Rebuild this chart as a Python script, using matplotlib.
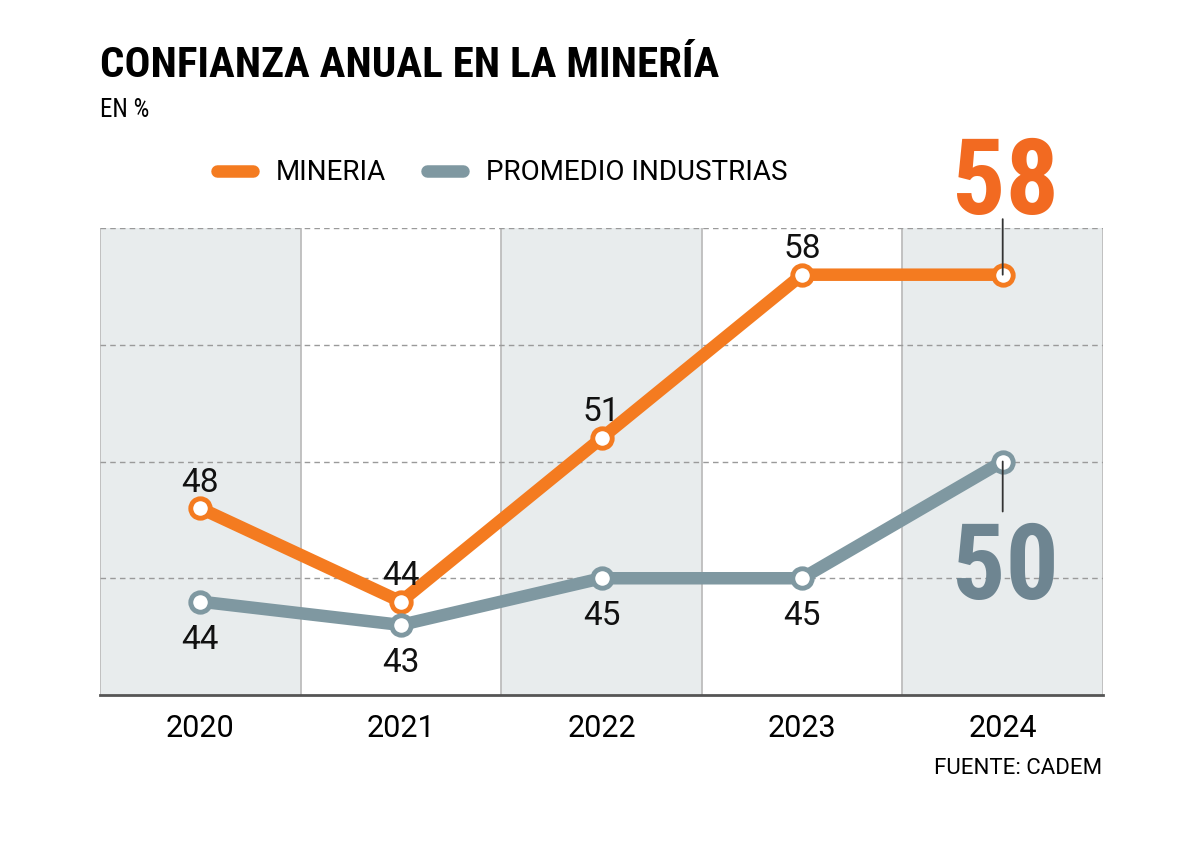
import matplotlib.pyplot as plt
from matplotlib.lines import Line2D
import numpy as np

plt.rcParams['font.family'] = ['Roboto', 'DejaVu Sans']
cond = ['Roboto Condensed', 'Liberation Sans Narrow', 'Roboto', 'DejaVu Sans']

years = ["2020", "2021", "2022", "2023", "2024"]
mineria = [48, 44, 51, 58, 58]
promedio = [44, 43, 45, 45, 50]
yticks = [40, 45, 50, 55, 60]

c_min = "#f47b20"
c_prom = "#7f98a1"
c_big_min = "#f26a21"
c_big_prom = "#6e8591"
shade = "#e8eced"

fig = plt.figure(figsize=(12, 8.58), dpi=100)
ax = fig.add_axes([100/1200, 1-695/858, 1003/1200, 467/858])

x = np.arange(len(years))
ax.set_xlim(-0.5, len(years)-0.5)
ax.set_ylim(40, 60)

# shaded columns
for i in range(len(years)):
    if i % 2 == 0:
        ax.axvspan(i-0.5, i+0.5, color=shade, zorder=0, lw=0)
for i in range(len(years)+1):
    ax.axvline(i-0.5, color="#bdbdbd", lw=1.3, zorder=1)
for yv in yticks[1:]:
    ax.axhline(yv, color="#9a9a9a", lw=1, ls=(0, (4, 3)), zorder=1)

ax.plot(x, mineria, color=c_min, lw=9, zorder=3, solid_capstyle="round",
        marker="o", ms=14, mfc="white", mec=c_min, mew=3.5)
ax.plot(x, promedio, color=c_prom, lw=9, zorder=3, solid_capstyle="round",
        marker="o", ms=14, mfc="white", mec=c_prom, mew=3.5)

for i in range(len(years)-1):
    ax.annotate(str(mineria[i]), (x[i], mineria[i]), xytext=(0, 12), textcoords="offset points",
                ha="center", va="baseline", fontsize=24, color="#111111", zorder=5)
    ax.annotate(str(promedio[i]), (x[i], promedio[i]), xytext=(0, -34), textcoords="offset points",
                ha="center", va="baseline", fontsize=24, color="#111111", zorder=5)

# big final values with connectors
ax.annotate("", (x[-1], mineria[-1]), xytext=(0, 40), textcoords="offset points",
            annotation_clip=False,
            arrowprops=dict(arrowstyle="-", color="#333333", lw=1.3, shrinkA=0, shrinkB=0))
ax.annotate(str(mineria[-1]), (x[-1], mineria[-1]), xytext=(2, 44), textcoords="offset points",
            ha="center", va="baseline", fontsize=76, fontweight="bold", color=c_big_min,
            family=cond, annotation_clip=False)
ax.annotate("", (x[-1], promedio[-1]), xytext=(0, -36), textcoords="offset points",
            arrowprops=dict(arrowstyle="-", color="#333333", lw=1.3, shrinkA=0, shrinkB=0))
ax.annotate(str(promedio[-1]), (x[-1], promedio[-1]), xytext=(2, -99), textcoords="offset points",
            ha="center", va="baseline", fontsize=76, fontweight="bold", color=c_big_prom,
            family=cond)

ax.set_yticks([])
ax.set_xticks(x)
ax.set_xticklabels(years, fontsize=22)
ax.tick_params(axis="x", length=0, pad=14)
for s in ["top", "left", "right"]:
    ax.spines[s].set_visible(False)
ax.spines["bottom"].set_color("#555555")
ax.spines["bottom"].set_linewidth(2)

fig.text(100/1200, 1-77/858, "CONFIANZA ANUAL EN LA MINERÍA", fontsize=31, fontweight="bold",
         family=cond, ha="left", va="baseline")
fig.text(100/1200, 1-117/858, "EN %", fontsize=18, family=cond, ha="left", va="baseline")
fig.text(1102/1200, 1-774/858, "FUENTE: CADEM", fontsize=16, ha="right", va="baseline")

handles = [Line2D([], [], color=c_min, lw=9, solid_capstyle="round"),
           Line2D([], [], color=c_prom, lw=9, solid_capstyle="round")]
fig.legend(handles, ["MINERIA", "PROMEDIO INDUSTRIAS"], loc="center left",
           bbox_to_anchor=(192/1200, 1-173/858), ncol=2, frameon=False, fontsize=20,
           handlelength=1.3, handletextpad=0.8, columnspacing=1.5)

fig.savefig("out.png", dpi=100)
